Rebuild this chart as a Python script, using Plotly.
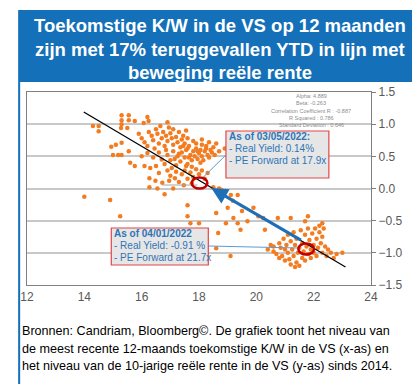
import plotly.graph_objects as go

# ---------------- data ----------------
pe_forward = [
    14.3, 14.5, 14.5, 15.3, 15.55, 15.3, 15.55, 15.3, 15.28, 15.5, 15.76, 16.07, 16.2, 16.24, 16.9,
    14.94, 15.1, 15.3, 15.55, 15.9, 16.0, 16.1, 16.25, 16.35, 16.4, 16.5, 16.55, 16.6, 16.7, 16.75, 16.8,
    16.85, 16.9, 17.0, 17.05, 17.1, 17.1, 17.2, 17.25, 17.3, 17.35, 17.4, 17.45, 17.5, 17.55, 17.6, 16.95,
    16.65, 17.6, 16.2, 16.45,
    15.0, 15.18, 15.3, 15.6, 15.76, 16.1, 16.3, 16.5, 16.0, 16.2, 16.4, 16.6, 16.7, 16.8, 16.9, 17.0, 17.1,
    17.2, 17.25, 17.35, 17.4, 17.5, 17.55, 17.6, 17.7, 17.75, 17.8, 17.85, 17.9, 17.95, 18.0, 18.05, 18.1,
    18.15, 18.2, 18.25, 18.3, 18.35, 18.4, 18.45, 18.5, 18.55, 18.7, 18.9, 17.65, 17.9, 18.1, 18.6,
    16.27, 16.48, 16.72, 16.96, 17.16, 16.27, 16.55, 16.8, 17.1, 17.47, 16.6, 16.9, 17.0, 17.2, 17.3, 17.4,
    17.5, 17.6, 17.7, 17.75, 17.8, 17.9, 18.0, 18.1, 18.2, 18.3, 18.5, 18.7, 17.55, 17.05,
    14.0, 14.9, 15.25, 17.6, 17.6, 17.7, 18.0, 18.6, 18.94, 18.77, 19.11, 19.18, 19.2, 19.35, 19.45, 19.69,
    19.9, 20.07, 20.24, 20.3, 20.75, 21.2, 21.7, 21.8, 22.3, 18.67, 18.6, 19.1, 19.35, 19.0, 19.5,
    20.4, 20.5, 20.6, 20.7, 20.8, 20.85, 20.9, 20.95, 21.0, 21.05, 21.1, 21.1, 21.15, 21.2, 21.25, 21.3,
    21.3, 21.35, 21.4, 21.4, 21.45, 21.5, 21.5, 21.55, 21.6, 21.6, 21.65, 21.7, 21.7, 21.75, 21.8, 21.8,
    21.85, 21.9, 21.9, 21.95, 22.0, 22.0, 22.05, 22.1, 22.1, 22.15, 22.2, 22.25, 22.3, 22.3, 22.35, 22.4,
    22.45, 22.5, 22.6, 22.7, 22.8, 23.0, 21.2, 21.35, 21.0, 20.8, 20.6, 22.2,
    17.3, 17.45, 17.65, 17.8, 17.95, 18.1, 18.25, 17.15, 16.85, 17.75, 18.05, 18.35,
]
real_yield = [
    0.97, 0.97, 0.89, 1.14, 1.14, 1.06, 1.06, 1.00, 0.94, 0.94, 1.05, 1.02, 1.11, 1.05, 1.03,
    0.65, 0.68, 0.71, 0.58, 0.85, 0.78, 0.72, 0.88, 0.82, 0.75, 0.92, 0.85, 0.70, 0.78, 0.88, 0.66,
    0.82, 0.74, 0.86, 0.78, 0.92, 0.68, 0.80, 0.72, 0.88, 0.64, 0.76, 0.82, 0.70, 0.90, 0.62, 0.95,
    0.97, 0.78, 0.66, 0.62,
    0.52, 0.52, 0.52, 0.40, 0.35, 0.35, 0.32, 0.35, 0.50, 0.55, 0.48, 0.56, 0.45, 0.38, 0.52, 0.44, 0.58,
    0.36, 0.50, 0.42, 0.56, 0.48, 0.60, 0.38, 0.52, 0.44, 0.58, 0.50, 0.62, 0.46, 0.55, 0.60, 0.50,
    0.44, 0.58, 0.62, 0.52, 0.48, 0.60, 0.56, 0.64, 0.52, 0.58, 0.62, 0.66, 0.70, 0.68, 0.70,
    0.16, 0.12, 0.09, 0.12, 0.16, 0.02, 0.00, -0.09, 0.00, 0.05, 0.24, 0.28, 0.20, 0.26, 0.10, 0.22,
    0.28, 0.15, 0.25, 0.08, 0.18, 0.30, 0.22, 0.28, 0.15, 0.24, 0.02, 0.00, 0.35, 0.32,
    -0.13, -0.18, -0.43, -0.26, -0.43, -0.54, -0.54, -0.38, -0.54, -0.02, -0.10, -0.19, -0.46, -0.54, -0.64, -0.51,
    -0.30, -0.43, -0.46, -0.64, -0.46, -0.46, -0.51, -0.43, -0.54, -0.69, -0.93, -1.05, -0.10, -0.30, -0.35,
    -0.95, -0.88, -0.98, -1.02, -0.85, -0.92, -1.05, -0.78, -0.95, -0.88, -1.00, -0.72, -1.10, -0.82, -0.95, -1.05,
    -0.68, -0.88, -1.15, -0.78, -1.00, -0.92, -1.20, -0.65, -1.08, -0.85, -0.98, -0.72, -1.12, -0.90, -1.02, -0.62,
    -0.80, -0.95, -1.08, -0.70, -0.88, -1.00, -0.62, -0.78, -1.05, -0.92, -0.68, -0.85, -1.00, -0.75, -0.62, -0.90,
    -1.05, -0.95, -1.00, -1.08, -1.02, -1.00, -1.18, -1.22, -1.12, -1.08, -0.90, -0.58,
    0.54, 0.66, 0.48, 0.74, 0.58, 0.76, 0.66, 0.46, 0.60, 0.34, 0.40, 0.72,
]
fit_x = [13.98, 23.11]
fit_y = [1.19, -1.22]

highlight_x = [18.02, 21.74]   # 03/05/2022 and 04/01/2022
highlight_y = [0.085, -0.94]

x_ticks = [12, 14, 16, 18, 20, 22, 24]
y_ticks = [-1.5, -1.0, -0.5, 0.0, 0.5, 1.0, 1.5]

stats_lines = ["Alpha: 4.889", "Beta: -0.263", "Correlation Coefficient R : -0.887",
               "R Squared : 0.786", "Standard Deviation : 0.646"]
title_lines = ["Toekomstige K/W in de VS op 12 maanden",
               "zijn met 17% teruggevallen YTD in lijn met",
               "beweging reële rente"]
footer_lines = ["Bronnen: Candriam, Bloomberg©. De grafiek toont het niveau van",
                "de meest recente 12-maands toekomstige K/W in de VS (x-as) en",
                "het niveau van de 10-jarige reële rente in de VS (y-as) sinds 2014."]
box1_lines = ["As of 03/05/2022:", "- Real Yield: 0.14%", "- PE Forward at 17.9x"]
box2_lines = ["As of 04/01/2022", "- Real Yield: -0.91 %", "- PE Forward at 21.7x"]

# ---------------- layout helpers ----------------
W, H = 420, 384
L, R, T, B = 12, 363, 84, 277  # plot area in pixels
FONT = "Liberation Sans, Arial, sans-serif"
BLUE = "#1470B8"
TXTBLUE = "#2E75B6"

def px(xp):
    return (xp - L) / (R - L)

def py(yp):
    return (B - yp) / (B - T)

def dx(xp):
    return x_ticks[0] + (xp - L) / (R - L) * (x_ticks[-1] - x_ticks[0])

def dy(yp):
    return y_ticks[-1] - (yp - T) / (B - T) * (y_ticks[-1] - y_ticks[0])

fig = go.Figure()

fig.add_trace(go.Scatter(x=pe_forward, y=real_yield, mode="markers",
                         marker=dict(color="#F47C20", size=4.5), hoverinfo="skip"))
fig.add_trace(go.Scatter(x=fit_x, y=fit_y, mode="lines",
                         line=dict(color="black", width=1.3), hoverinfo="skip"))

shapes = []
annotations = []

# outer frame + banner
shapes.append(dict(type="rect", xref="paper", yref="paper", x0=px(4), x1=px(414), y0=py(379), y1=py(3),
                   line=dict(color=BLUE, width=2), fillcolor="rgba(0,0,0,0)", layer="below"))
shapes.append(dict(type="rect", xref="paper", yref="paper", x0=px(4), x1=px(414), y0=py(74), y1=py(3),
                   line=dict(width=0), fillcolor=BLUE, layer="above"))

# faint grey leader lines
shapes.append(dict(type="line", xref="x", yref="y", x0=dx(150), y0=dy(177), x1=dx(186), y1=dy(177),
                   line=dict(color="#A6A6A6", width=1), layer="above"))

# thin leader lines
shapes.append(dict(type="line", xref="x", yref="y", x0=dx(191), y0=dy(170), x1=dx(215), y1=dy(147),
                   line=dict(color="#5B9BD5", width=1), layer="above"))
shapes.append(dict(type="line", xref="x", yref="y", x0=dx(197), y0=dy(238), x1=dx(289), y1=dy(240),
                   line=dict(color="#5B9BD5", width=1), layer="above"))

# boxes
for (x0, y0, x1, y1) in [(215, 123, 320, 170), (98, 220, 197, 257)]:
    shapes.append(dict(type="rect", xref="x", yref="y", x0=dx(x0), x1=dx(x1), y0=dy(y1), y1=dy(y0),
                       line=dict(color="#E0464B", width=1.2), fillcolor="#E6E6E6", layer="above"))

# red circles
for cx, cy in zip(highlight_x, highlight_y):
    hw = 8 / (R - L) * 12
    hh = 5.5 / (B - T) * 3
    shapes.append(dict(type="circle", xref="x", yref="y", x0=cx - hw, x1=cx + hw, y0=cy - hh, y1=cy + hh,
                       line=dict(color="#C00000", width=2.5), layer="above"))

# big blue arrow
annotations.append(dict(x=dx(200), y=dy(180), ax=dx(293), ay=dy(233), xref="x", yref="y",
                        axref="x", ayref="y", text="", showarrow=True, arrowhead=2, arrowsize=1.1,
                        arrowwidth=3, arrowcolor="#1F6FB8"))

# box texts
for lines, x0, ys in [(box1_lines, 216, [128, 140, 152]), (box2_lines, 99, [225, 237, 249])]:
    for i, (t, yy) in enumerate(zip(lines, ys)):
        annotations.append(dict(x=px(x0), y=py(yy), xref="paper", yref="paper", xanchor="left",
                                yanchor="middle", showarrow=False,
                                text=("<b>%s</b>" % t) if i == 0 else t,
                                font=dict(family=FONT, size=10, color=TXTBLUE)))

# stats text
for t, yy in zip(stats_lines, [88, 95, 103, 110, 117]):
    annotations.append(dict(x=px(302), y=py(yy), xref="paper", yref="paper", xanchor="center",
                            yanchor="middle", showarrow=False, text=t,
                            font=dict(family=FONT, size=5.5, color="#8C8C8C")))

# title
for t, yy in zip(title_lines, [18, 41, 64]):
    annotations.append(dict(x=px(209), y=py(yy), xref="paper", yref="paper", xanchor="center",
                            yanchor="middle", showarrow=False, text="<b>%s</b>" % t,
                            font=dict(family=FONT, size=18.5, color="white")))

# footer
for t, yy in zip(footer_lines, [323, 341, 358]):
    annotations.append(dict(x=px(5), y=py(yy), xref="paper", yref="paper", xanchor="left",
                            yanchor="middle", showarrow=False, text=t,
                            font=dict(family=FONT, size=12.6, color="black")))

fig.update_layout(
    width=W, height=H,
    margin=dict(l=L, r=W - R, t=T, b=H - B),
    paper_bgcolor="white", plot_bgcolor="white",
    showlegend=False,
    shapes=shapes, annotations=annotations,
    xaxis=dict(range=[x_ticks[0], x_ticks[-1]], tickvals=x_ticks, ticks="", showgrid=False,
               showline=True, linecolor="#7F7F7F", linewidth=1.2, mirror=True, zeroline=False,
               tickfont=dict(family=FONT, size=12, color="#595959")),
    yaxis=dict(range=[y_ticks[0], y_ticks[-1]], tickvals=y_ticks, tickformat=".1f", side="right",
               ticks="outside", ticklen=4, tickcolor="#7F7F7F", showgrid=True, gridcolor="#C8C8C8",
               gridwidth=2, showline=True, linecolor="#7F7F7F", linewidth=1.2, mirror=True,
               zeroline=False, tickfont=dict(family=FONT, size=12, color="#595959")),
)

fig.write_html("out.html")
